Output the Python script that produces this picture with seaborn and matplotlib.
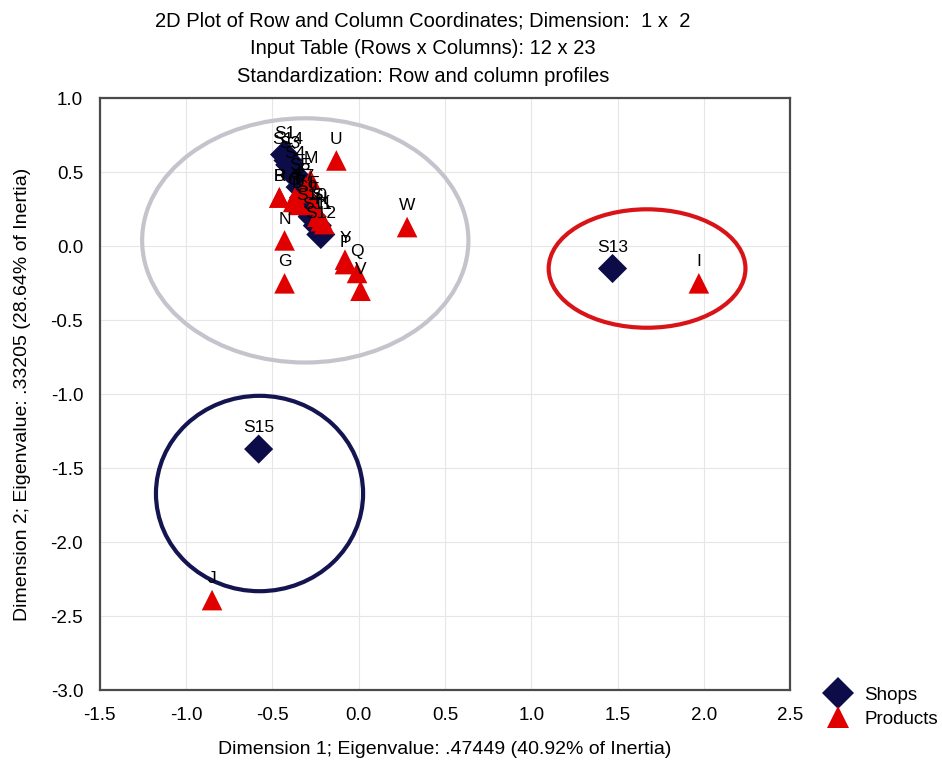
""" Correspondence analysis biplot: shops vs products """

import matplotlib
matplotlib.use("Agg")
import matplotlib.pyplot as plt
import pandas as pd
import seaborn as sns
from matplotlib.patches import Ellipse
from matplotlib.ticker import MultipleLocator


# data
shop_labels = ["S1", "S3", "S4", "S5", "S7", "S9", "S10", "S11", "S12", "S14", "S13", "S15"]
shop_x = [-0.43, -0.40, -0.37, -0.34, -0.32, -0.30, -0.27, -0.24, -0.22, -0.41, 1.47, -0.58]
shop_y = [0.62, 0.55, 0.48, 0.40, 0.33, 0.25, 0.20, 0.14, 0.08, 0.58, -0.15, -1.37]

product_labels = ["A", "B", "C", "D", "E", "F", "G", "H", "I", "J", "K", "L",
                  "M", "N", "Y", "P", "Q", "R", "S", "T", "U", "V", "W"]
product_x = [-0.37, -0.46, -0.38, -0.35, -0.31, -0.26, -0.43, -0.22, 1.97, -0.85, -0.20, -0.33,
             -0.28, -0.43, -0.08, -0.08, -0.01, -0.46, -0.24, -0.36, -0.13, 0.01, 0.28]
product_y = [0.33, 0.33, 0.30, 0.28, 0.40, 0.28, -0.25, 0.17, -0.25, -2.39, 0.15, 0.36,
             0.45, 0.04, -0.09, -0.12, -0.18, 0.33, 0.20, 0.31, 0.58, -0.30, 0.13]

# circled groups: centre x, centre y, width, height, colour
groups = [
    (-0.31, 0.04, 1.89, 1.65, "#c4c4cc"),
    (1.67, -0.15, 1.14, 0.80, "#d81418"),
    (-0.575, -1.67, 1.20, 1.32, "#141450"),
]

shops = pd.DataFrame({"x": shop_x, "y": shop_y, "label": shop_labels, "kind": "Shops"})
products = pd.DataFrame({"x": product_x, "y": product_y, "label": product_labels, "kind": "Products"})
points = pd.concat([shops, products], ignore_index=True)

sns.set_style("white")
plt.rcParams["font.family"] = ["Liberation Sans", "DejaVu Sans"]
plt.rcParams["axes.unicode_minus"] = False
for key in ["text.color", "axes.labelcolor", "xtick.color", "ytick.color"]:
    plt.rcParams[key] = "black"

figure = plt.figure(figsize=(9.42, 7.62), dpi=100)
axes = figure.add_axes([0.106, 0.094, 0.733, 0.777])

# group ellipses behind the points
for cx, cy, w, h, colour in groups:
    axes.add_patch(Ellipse((cx, cy), w, h, fill=False, edgecolor=colour, linewidth=3, zorder=1))

sns.scatterplot(
    data=points, x="x", y="y", hue="kind", style="kind",
    palette={"Shops": "#0c0c48", "Products": "#e00000"},
    markers={"Shops": "D", "Products": "^"},
    s=220, edgecolor="none", ax=axes, zorder=3, legend=True,
)

# point labels above each marker
for _, row in points.iterrows():
    axes.annotate(row["label"], (row["x"], row["y"]), xytext=(0, 10),
                  textcoords="offset points", ha="center", va="bottom",
                  fontsize=12.5, color="black", zorder=4)

axes.set_xlim(-1.5, 2.5)
axes.set_ylim(-3.0, 1.0)
axes.xaxis.set_major_locator(MultipleLocator(0.5))
axes.yaxis.set_major_locator(MultipleLocator(0.5))
axes.xaxis.set_minor_locator(MultipleLocator(0.1))
axes.yaxis.set_minor_locator(MultipleLocator(0.1))
axes.tick_params(which="both", direction="in", top=False, right=False, labelsize=13.5,
                 color="#333333")
axes.tick_params(which="major", length=5, width=1, pad=12)
axes.tick_params(which="minor", length=3, width=0.8)
axes.grid(True, which="major", color="#e6e6e6", linewidth=0.8, zorder=0)
axes.set_axisbelow(True)
for spine in axes.spines.values():
    spine.set_color("#4a4a4a")
    spine.set_linewidth(1.6)

axes.set_xlabel("Dimension 1; Eigenvalue: .47449 (40.92% of Inertia)",
                fontsize=14, labelpad=12)
axes.set_ylabel("Dimension 2; Eigenvalue: .33205 (28.64% of Inertia)",
                fontsize=14, labelpad=14)

title_lines = [
    "2D Plot of Row and Column Coordinates; Dimension:  1 x  2",
    "Input Table (Rows x Columns): 12 x 23",
    "Standardization: Row and column profiles",
]
for i, line in enumerate(title_lines):
    figure.text(0.449, 0.972 - i * 0.036, line, ha="center", va="center", fontsize=14.5)

handles, labels = axes.get_legend_handles_labels()
axes.legend(handles, labels, loc="center left", bbox_to_anchor=(0.862, 0.072),
            bbox_transform=figure.transFigure, frameon=False, fontsize=13.5,
            handletextpad=0.4, labelspacing=0.35, markerscale=1.1, borderaxespad=0)

figure.savefig("out.png", dpi=100)
